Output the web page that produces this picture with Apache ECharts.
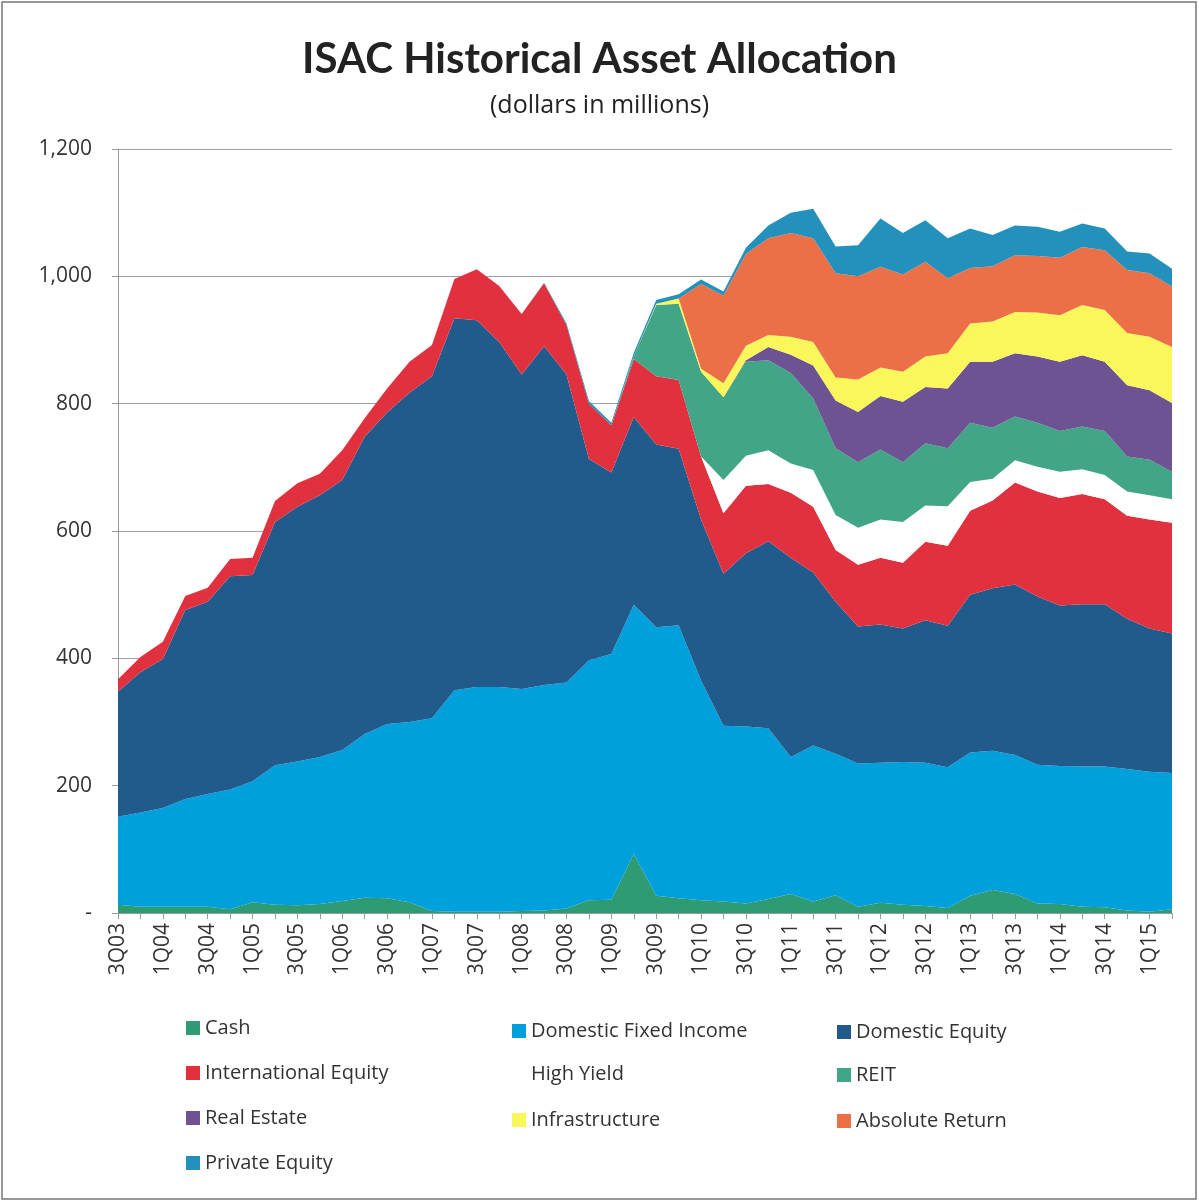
<!DOCTYPE html>
<html>
<head>
<meta charset="utf-8">
<script src="https://cdn.jsdelivr.net/npm/echarts@6/dist/echarts.min.js"></script>
<style>
html,body{margin:0;padding:0;background:#fff;}
#chart{width:1199px;height:1203px;}
</style>
</head>
<body>
<div id="chart"></div>
<script>
// Quarterly categories 3Q03 .. 2Q15
const categories = ["3Q03","4Q03","1Q04","2Q04","3Q04","4Q04","1Q05","2Q05","3Q05","4Q05","1Q06","2Q06","3Q06","4Q06","1Q07","2Q07","3Q07","4Q07","1Q08","2Q08","3Q08","4Q08","1Q09","2Q09","3Q09","4Q09","1Q10","2Q10","3Q10","4Q10","1Q11","2Q11","3Q11","4Q11","1Q12","2Q12","3Q12","4Q12","1Q13","2Q13","3Q13","4Q13","1Q14","2Q14","3Q14","4Q14","1Q15","2Q15"];

const cash = [13,10,10,10,10,6,17,13,12,14,19,24,23,17,3,2,2,2,3,4,7,20,21,93,27,23,20,18,15,22,30,18,28,10,16,13,11,8,27,36,30,15,14,10,9,4,2,6];
const domesticFixedIncome = [138,148,155,169,177,188,190,219,226,231,237,257,274,283,303,348,353,353,349,354,355,377,386,391,422,429,345,276,278,268,215,245,222,225,220,224,225,221,225,219,218,218,217,220,221,222,220,214];
const domesticEquity = [197,220,234,297,302,335,324,382,400,411,424,467,489,517,537,584,576,542,494,532,484,316,285,295,287,277,253,239,272,294,313,272,239,215,217,210,224,222,248,255,268,264,252,255,255,236,225,219];
const internationalEquity = [19,24,27,22,22,27,27,33,37,34,47,29,38,49,49,62,80,88,95,99,77,87,74,91,107,108,99,95,106,90,102,103,81,97,105,103,123,126,132,138,160,165,169,173,165,162,171,174];
const highYield = [0,0,0,0,0,0,0,0,0,0,0,0,0,0,0,0,0,0,0,0,0,0,0,0,0,0,0,52,47,53,46,58,55,58,60,64,57,62,45,34,35,39,41,39,38,38,38,37];
const reit = [0,0,0,0,0,0,0,0,0,0,0,0,0,0,0,0,0,0,0,0,0,0,0,5,112,120,133,130,148,141,142,112,105,103,110,94,98,91,93,80,69,69,64,67,69,55,56,43];
const realEstate = [0,0,0,0,0,0,0,0,0,0,0,0,0,0,0,0,0,0,0,0,0,0,0,0,0,0,0,0,2,21,29,52,75,79,84,95,88,94,96,104,99,104,109,112,109,112,109,108];
const infrastructure = [0,0,0,0,0,0,0,0,0,0,0,0,0,0,0,0,0,0,0,0,0,0,0,0,2,8,5,22,23,19,28,37,36,51,45,47,48,55,60,63,65,69,73,79,81,82,84,88];
const absoluteReturn = [0,0,0,0,0,0,0,0,0,0,0,0,0,0,0,0,0,0,0,0,0,0,0,0,0,0,133,138,144,152,163,163,164,162,158,153,149,118,87,87,89,89,90,91,94,99,100,95];
const privateEquity = [0,0,0,0,0,0,0,0,0,0,0,0,0,0,0,0,0,0,0,1,3,4,4,5,6,7,7,6,10,20,32,46,42,49,76,65,65,63,62,49,47,46,41,37,34,29,31,28];

const seriesNames = ["Cash","Domestic Fixed Income","Domestic Equity","International Equity","High Yield","REIT","Real Estate","Infrastructure","Absolute Return","Private Equity"];
const seriesData = [cash,domesticFixedIncome,domesticEquity,internationalEquity,highYield,reit,realEstate,infrastructure,absoluteReturn,privateEquity];
const seriesColors = ["#2E9B73","#00A0DC","#215B8C","#E2313E","#FFFFFF","#43A587","#6D5392","#FAF75A","#EC7047","#2491BC"];

// legend layout: [left, top] per series
const legendPos = [[181,1013],[507,1016],[832,1017],[181,1058],[507,1059],[832,1060],[181,1103],[507,1105],[832,1106],[181,1148]];

const FONT = "'Open Sans', sans-serif";
const TFONT = "Lato, 'Open Sans', sans-serif";

const chart = echarts.init(document.getElementById('chart'), null, {renderer:'canvas'});

const legends = seriesNames.map((n,i)=>({
  data:[{name:n, icon:'rect'}],
  left: legendPos[i][0], top: legendPos[i][1],
  itemWidth: 14, itemHeight: 14, itemGap: 6,
  selectedMode:false,
  textStyle:{fontFamily:FONT,fontSize:20,color:'#333'}
}));

chart.setOption({
  animation:false,
  backgroundColor:'#fff',
  title:[{
    text:'ISAC Historical Asset Allocation',
    left:'center', top:33,
    textStyle:{fontFamily:TFONT,fontSize:42,fontWeight:'bold',color:'#222'}
  },{
    text:'(dollars in millions)',
    left:'center', top:88,
    textStyle:{fontFamily:FONT,fontSize:25,fontWeight:'normal',color:'#222'}
  }],
  graphic:[{type:'rect',shape:{x:2,y:2,width:1194,height:1197},style:{fill:'none',stroke:'#777',lineWidth:1.5},silent:true}],
  legend: legends,
  grid:{left:118,right:27,top:149,bottom:290,containLabel:false},
  xAxis:{
    type:'category', data:categories, boundaryGap:false,
    axisLine:{show:true,lineStyle:{color:'#999',width:1}},
    axisTick:{show:true,interval:0,length:6,lineStyle:{color:'#999'}},
    axisLabel:{interval:1,rotate:90,margin:10,fontFamily:FONT,fontSize:21,color:'#333'}
  },
  yAxis:{
    type:'value', min:0, max:1200, interval:200,
    axisLine:{show:true,lineStyle:{color:'#999'}},
    axisTick:{show:true,length:6,lineStyle:{color:'#999'}},
    splitLine:{show:true,lineStyle:{color:'#a0a0a0',width:1.2}},
    axisLabel:{margin:26,fontFamily:FONT,fontSize:21,color:'#333',
      formatter:function(v){ return v===0 ? '-' : v.toLocaleString('en-US'); }}
  },
  series: seriesNames.map((n,i)=>({
    name:n, type:'line', stack:'total', data:seriesData[i],
    showSymbol:false, symbol:'none',
    lineStyle:{width:0},
    areaStyle:{color:seriesColors[i],opacity:1},
    itemStyle:{color:seriesColors[i]},
    z: 2
  }))
});
</script>
</body>
</html>
